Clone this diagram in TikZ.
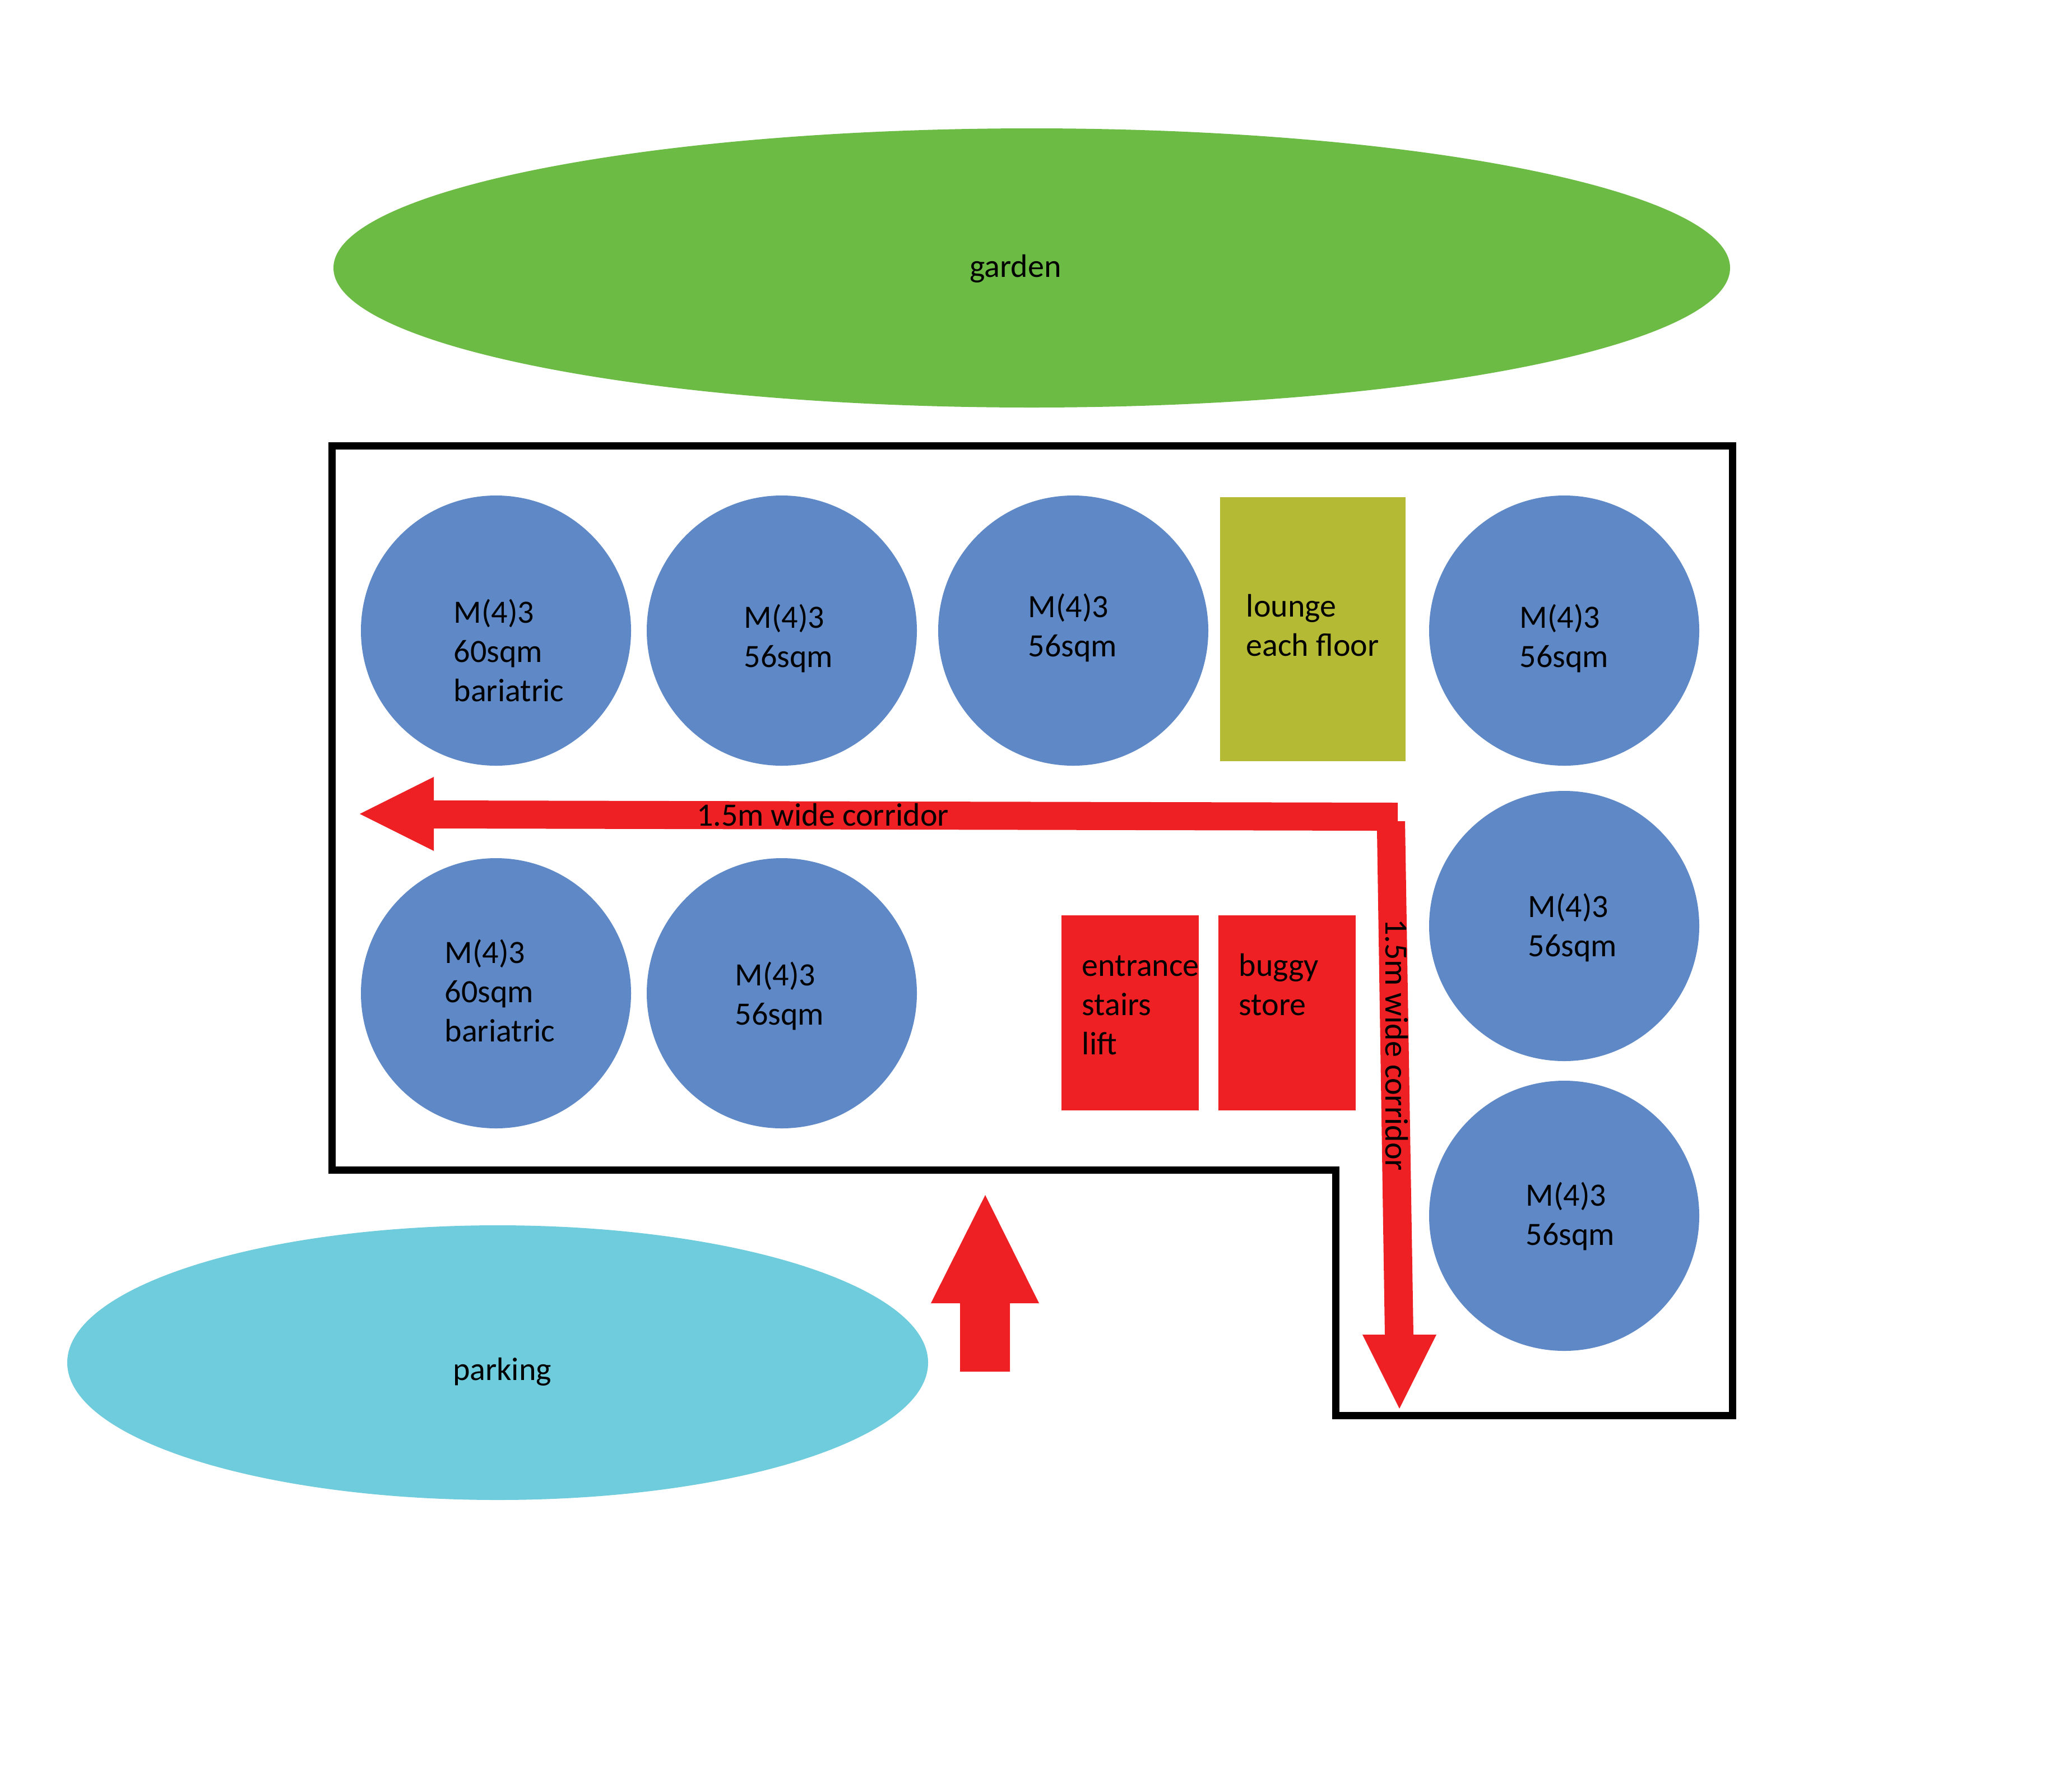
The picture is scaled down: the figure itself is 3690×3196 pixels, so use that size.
\documentclass[tikz,border=0pt]{standalone}
\usepackage{fontspec}
\setmainfont{Carlito}
\tikzset{every node/.style={font=\fontsize{16.5}{19.9}\selectfont, inner sep=0pt},
  lbl/.style={anchor=west, align=left},
  lblc/.style={anchor=center, align=center}}

\begin{document}
\begin{tikzpicture}[x=0.01cm, y=-0.01cm]
  % Bounding box fixe (same size as the plan)
  \path[use as bounding box] (0,0) rectangle (3690,3196);

  % Colors of the plan.
  \definecolor{gardencol}{HTML}{6CBB45}
  \definecolor{parkingcol}{HTML}{6FCCDD}
  \definecolor{roomcol}{HTML}{5E88C6}
  \definecolor{loungecol}{HTML}{B5BA35}
  \definecolor{corridorcol}{HTML}{EE2024}

  % Outdoor areas.
  \fill[gardencol] (1841,478) ellipse (1246 and 249);
  \fill[parkingcol] (888,2431) ellipse (768 and 245);

  % Outline of the building.
  \draw[line width=13*0.01cm, miter limit=10] (592,795) -- (3091,795) -- (3091,2525)
    -- (2383,2525) -- (2383,2087) -- (592,2087) -- cycle;

  % Centres of the rooms.
  \coordinate (R1) at (885,1125);
  \coordinate (R2) at (1395,1125);
  \coordinate (R3) at (1915,1125);
  \coordinate (R4) at (2791,1125);
  \coordinate (R5) at (2791,1652);
  \coordinate (R6) at (2791,2169);
  \coordinate (R7) at (885,1772);
  \coordinate (R8) at (1395,1772);

  \foreach \r in {R1,R2,R3,R4,R5,R6,R7,R8}
    \fill[roomcol] (\r) circle (241);

  % Lounge, entrance and store.
  \fill[loungecol] (2177,887) rectangle (2508,1358);
  \fill[corridorcol] (1894,1633) rectangle (2139,1981);
  \fill[corridorcol] (2174,1633) rectangle (2419,1981);

  % Corridors.
  \fill[corridorcol] (642,1452) -- (774,1386) -- (774,1428) -- (2494,1432) -- (2494,1465)
    -- (2507,1465) -- (2522,2381) -- (2563,2381) -- (2497,2513) -- (2431,2381) -- (2471,2381)
    -- (2457,1482) -- (774,1478) -- (774,1518) -- cycle;

  % Entrance arrow.
  \fill[corridorcol] (1758,2132) -- (1854,2325) -- (1802,2325) -- (1802,2447)
    -- (1713,2447) -- (1713,2325) -- (1661,2325) -- cycle;

  % Labels.
  \node[lblc] (garden) at (1812,479) {garden};
  \node[lblc] (parking) at (896,2447) {parking};
  \node[lbl] (room1) at (809,1160) {M(4)3\\60sqm\\bariatric};
  \node[lbl] (room2) at (1327,1139) {M(4)3\\56sqm};
  \node[lbl] (room3) at (1834,1120) {M(4)3\\56sqm};
  \node[lbl] (room4) at (2711,1139) {M(4)3\\56sqm};
  \node[lbl] (room5) at (2726,1655) {M(4)3\\56sqm};
  \node[lbl] (room6) at (2722,2170) {M(4)3\\56sqm};
  \node[lbl] (room7) at (793,1767) {M(4)3\\60sqm\\bariatric};
  \node[lbl] (room8) at (1311,1777) {M(4)3\\56sqm};
  \node[lbl] (lounge) at (2223,1116) {lounge\\each floor};
  \node[lbl] (entrance) at (1930,1793) {entrance\\stairs\\lift};
  \node[lbl] (buggy) at (2210,1757) {buggy\\store};
  \node[lblc] (corrh) at (1468,1454) {1.5m wide corridor};
  \node[lblc, rotate=-90] (corrv) at (2492,1864) {1.5m wide corridor};
\end{tikzpicture}
\end{document}
